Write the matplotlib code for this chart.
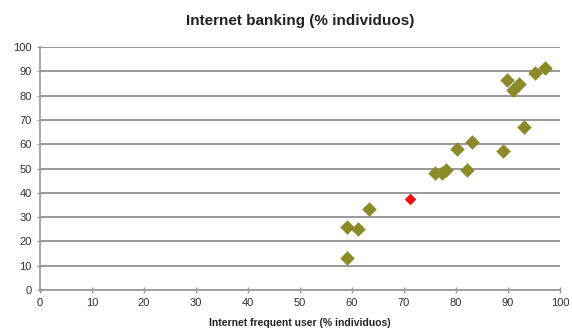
import matplotlib.pyplot as plt

plt.rcParams['font.family'] = ['Liberation Sans', 'DejaVu Sans']

# frequent internet users vs internet banking, % of individuals
freq_user = [59.1, 61.2, 63.3, 59.1, 76.0, 77.3, 78.1, 80.2, 82.1, 83.1,
             89.0, 89.8, 91.0, 92.1, 93.1, 95.1, 97.1]
banking = [26.0, 25.0, 33.2, 13.3, 48.3, 48.3, 49.4, 58.0, 49.4, 61.0,
           57.2, 86.4, 82.3, 84.6, 67.2, 89.2, 91.2]
hl_user = [71.1]
hl_banking = [37.3]

fig = plt.figure(figsize=(5.72, 3.29), dpi=100)
ax = fig.add_axes([0.07, 0.1185, 0.909, 0.7385])

ax.set_xlim(0, 100)
ax.set_ylim(0, 100)
ax.set_xticks(range(0, 101, 10))
ax.set_yticks(range(0, 101, 10))
ax.yaxis.grid(True, color='#999999', linewidth=1.4)
ax.set_axisbelow(True)

for s in ['top', 'right']:
    ax.spines[s].set_visible(False)
for s in ['left', 'bottom']:
    ax.spines[s].set_color('#999999')
    ax.spines[s].set_linewidth(1.2)
ax.tick_params(axis='both', colors='#999999', width=1, labelsize=8,
               labelcolor='#333333', direction='inout', length=5)

ax.scatter(freq_user, banking, marker='D', s=55, color='#8a8a28', zorder=3,
           linewidths=0)
ax.scatter(hl_user, hl_banking, marker='D', s=35, color='#ee1111', zorder=3,
           linewidths=0)

fig.text(0.525, 0.935, 'Internet banking (% individuos)', ha='center', va='center',
         fontsize=11, fontweight='bold', color='#222222')
ax.set_xlabel('Internet frequent user (% individuos)', fontsize=7.5,
              fontweight='bold', color='#222222', labelpad=7)

fig.savefig('out.png', dpi=100)
